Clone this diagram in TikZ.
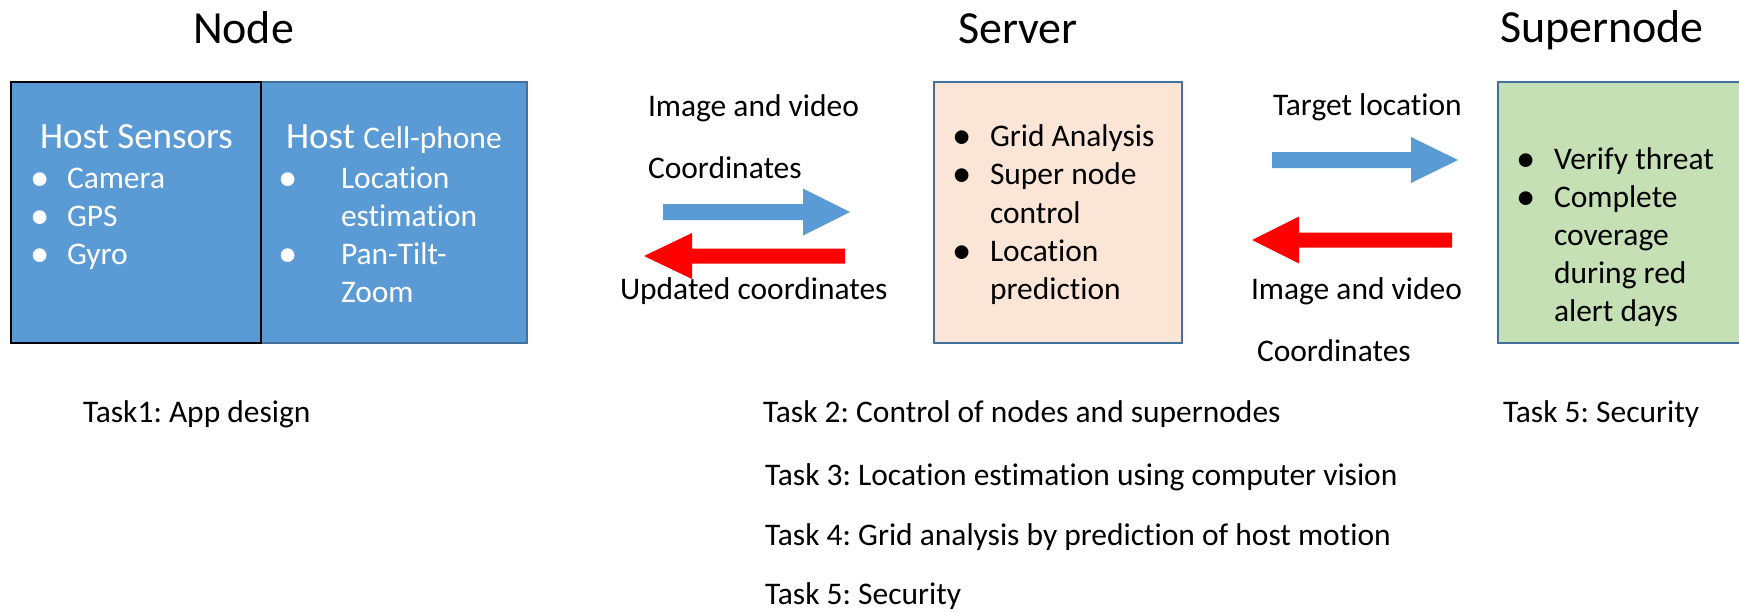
\documentclass[tikz,border=0pt]{standalone}
\usepackage{fontspec}
\setmainfont[Ligatures=NoCommon]{Carlito}
\usetikzlibrary{fit}
\definecolor{nodeblue}{HTML}{5B9BD5}
\definecolor{boxborder}{HTML}{41719C}
\definecolor{serverfill}{HTML}{FBE5D6}
\definecolor{superfill}{HTML}{C5E0B4}
\definecolor{arrowblue}{HTML}{5B9BD5}
\definecolor{arrowred}{HTML}{FF0000}
\newcommand{\bigbul}{\makebox[0pt][c]{\fontsize{29}{29}\selectfont\raisebox{-1.5pt}{\textbullet}}}
\frenchspacing
\begin{document}
\begin{tikzpicture}[x=0.75pt,y=-0.75pt,
  txt/.style={anchor=base west,inner sep=0pt,outer sep=0pt,font=\fontsize{23.6}{28}\selectfont},
  wtxt/.style={txt,text=white},
  bul/.style={anchor=base,inner sep=0pt,outer sep=0pt,font=\fontsize{23.6}{28}\selectfont},
  wbul/.style={bul,text=white},
  headtxt/.style={anchor=base west,inner sep=0pt,outer sep=0pt,text=white,font=\fontsize{27.75}{33}\selectfont},
  titletxt/.style={anchor=base west,inner sep=0pt,outer sep=0pt,font=\fontsize{34.5}{41}\selectfont},
  box/.style={inner sep=0pt,outer sep=0pt,line width=1.1pt,draw=boxborder},
  barrow/.style={fill=arrowblue},
  rarrow/.style={fill=arrowred}]
\useasboundingbox (0,0) rectangle (1739,611);
\clip (0,0) rectangle (1739,611);

% titles
\node[titletxt] (tnode) at (193,43) {Node};
\node[titletxt] (tserver) at (958,43) {Server};
\node[titletxt] (tsuper) at (1500,42) {Supernode};

% boxes
\node[box,fill=nodeblue,fit={(261,82) (527,343)}] (cell) {};
\node[box,fill=nodeblue,draw=black,line width=1.5pt,fit={(11,82) (261,343)}] (sensors) {};
\node[box,fill=serverfill,fit={(934,82) (1182,343)}] (server) {};
\node[box,fill=superfill,fit={(1498,82) (1800,343)}] (supernode) {};

% Node: sensors
\node[headtxt] (hs) at (40,148) {Host Sensors};
\node[wbul] (b1) at (40,188) {\bigbul};
\node[wtxt] (s1) at (67,188) {Camera};
\node[wbul] (b2) at (40,226) {\bigbul};
\node[wtxt] (s2) at (67,226) {GPS};
\node[wbul] (b3) at (40,264) {\bigbul};
\node[wtxt] (s3) at (67,264) {Gyro};

% Node: cell-phone
\node[headtxt] (hc) at (286,148) {Host \fontsize{23.6}{28}\selectfont Cell-phone};
\node[wbul] (b4) at (288,188) {\bigbul};
\node[wtxt] (c1) at (341,188) {Location};
\node[wtxt] (c2) at (341,226) {estimation};
\node[wbul] (b5) at (288,264) {\bigbul};
\node[wtxt] (c3) at (341,264) {Pan-Tilt-};
\node[wtxt] (c4) at (341,302) {Zoom};

% Server
\node[bul] (b6) at (962,146) {\bigbul};
\node[txt] (v1) at (990,146) {Grid Analysis};
\node[bul] (b7) at (962,184) {\bigbul};
\node[txt] (v2) at (990,184) {Super node};
\node[txt] (v3) at (990,223) {control};
\node[bul] (b8) at (962,261) {\bigbul};
\node[txt] (v4) at (990,261) {Location};
\node[txt] (v5) at (990,299) {prediction};

% Supernode
\node[bul] (b9) at (1526,169) {\bigbul};
\node[txt] (u1) at (1554,169) {Verify threat};
\node[bul] (b10) at (1526,207) {\bigbul};
\node[txt] (u2) at (1554,207) {Complete};
\node[txt] (u3) at (1554,245) {coverage};
\node[txt] (u4) at (1554,283) {during red};
\node[txt] (u5) at (1554,321) {alert days};

% labels between Node and Server
\node[txt] (l1) at (648,116) {Image and video};
\node[txt] (l2) at (648,178) {Coordinates};
\node[txt] (l3) at (620,299) {Updated coordinates};

% labels between Server and Supernode
\node[txt] (l4) at (1273,115) {Target location};
\node[txt] (l5) at (1251,299) {Image and video};
\node[txt] (l6) at (1257,361) {Coordinates};

% block arrows
\fill[barrow] (663,204) -- (803,204) -- (803,188.5) -- (850,212) -- (803,235.5) -- (803,220) -- (663,220) -- cycle;
\fill[rarrow] (845,248.5) -- (692,248.5) -- (692,233) -- (644,256) -- (692,279) -- (692,263.5) -- (845,263.5) -- cycle;
\fill[barrow] (1272,152) -- (1411,152) -- (1411,137) -- (1458,160) -- (1411,183) -- (1411,168) -- (1272,168) -- cycle;
\fill[rarrow] (1452,232.5) -- (1299,232.5) -- (1299,216.5) -- (1252,240) -- (1299,263.5) -- (1299,247.5) -- (1452,247.5) -- cycle;

% tasks
\node[txt] (k1) at (83,422) {Task1: App design};
\node[txt] (k2) at (763,422) {Task 2: Control of nodes and supernodes};
\node[txt] (k3) at (765,485) {Task 3: Location estimation using computer vision};
\node[txt] (k4) at (765,545) {Task 4: Grid analysis by prediction of host motion};
\node[txt] (k5) at (765,604) {Task 5: Security};
\node[txt] (k6) at (1503,422) {Task 5: Security};
\end{tikzpicture}
\end{document}
